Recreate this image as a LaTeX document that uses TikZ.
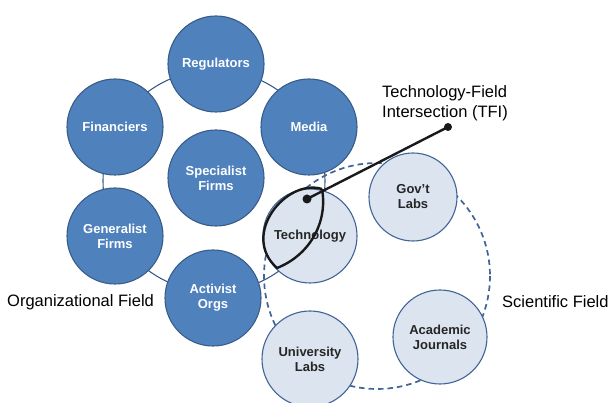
\documentclass[tikz,border=0pt]{standalone}
\usepackage{fontspec}
\setmainfont{Liberation Sans}

\definecolor{orgblue}{RGB}{79,129,189}
\definecolor{orgedge}{RGB}{56,93,138}
\definecolor{scifill}{RGB}{220,228,240}
\definecolor{sciedge}{RGB}{64,100,150}

\tikzset{
	fieldpicture/.style = {
		x = 1pt,
		y = -1pt,
		ring/.style = {
			draw = orgedge,
			line width = 1.1pt
		},
		sciring/.style = {
			draw = sciedge,
			line width = 1.7pt,
			dash pattern = on 5.5pt off 4pt
		}
	},
	orgnode/.style = {
		circle,
		draw = orgedge,
		line width = 1.1pt,
		fill = orgblue,
		text = white,
		minimum size = 96pt,
		inner sep = 0pt,
		align = center,
		font = \fontsize{13}{15}\selectfont\bfseries
	},
	scinode/.style = {
		orgnode,
		fill = scifill,
		draw = sciedge,
		text = black!85
	},
	fieldlabel/.style = {
		anchor = west,
		inner sep = 0pt,
		align = left,
		font = \fontsize{16.5}{20.5}\selectfont
	},
	tfi/.style = {
		line width = 2.4pt,
		draw = black!90
	}
}

\begin{document}
\begin{tikzpicture}[fieldpicture]
	\useasboundingbox (0,0) rectangle (614,403);

	\coordinate (orgcentre) at (214,181);
	\coordinate (scicentre) at (377,276);

	\path[ring] (orgcentre) circle (111);
	\path[sciring] (scicentre) circle (113);

	\node[orgnode] (Reg) at (216,64) {Regulators};
	\node[orgnode] (Med) at (309,127) {Media};
	\node[orgnode] (Fin) at (115,127) {Financiers};
	\node[orgnode] (Spec) at (216,178) {Specialist\\Firms};
	\node[orgnode] (Gen) at (115,236) {Generalist\\Firms};
	\node[orgnode] (Act) at (213,298) {Activist\\Orgs};

	\node[scinode, minimum size = 94pt] (Tech) at (310,236) {Technology};
	\node[scinode, minimum size = 88pt] (Gov) at (413,197) {Gov’t\\Labs};
	\node[scinode, minimum size = 94pt] (Acad) at (440,337) {Academic\\Journals};
	\node[scinode] (Univ) at (310,359) {University\\Labs};

	\node[fieldlabel] (OrgField) at (7,302) {Organizational Field};
	\node[fieldlabel] (SciField) at (502,302) {Scientific Field};
	\node[fieldlabel] (TFI) at (382,103) {Technology-Field\\Intersection (TFI)};

	% the intersection lens and its pointer
	\coordinate (lenstop) at (322,189);
	\coordinate (lensbot) at (277,268);
	\path[tfi] (lenstop) .. controls (286,178) and (240,235) .. (lensbot)
		.. controls (310,255) and (328,222) .. (lenstop);

	\coordinate (dotin) at (307,199);
	\coordinate (dotout) at (448,127);
	\path[tfi] (dotin) -- (dotout);
	\fill[black!90] (dotin) circle (4.5);
	\fill[black!90] (dotout) circle (4);
\end{tikzpicture}
\end{document}
